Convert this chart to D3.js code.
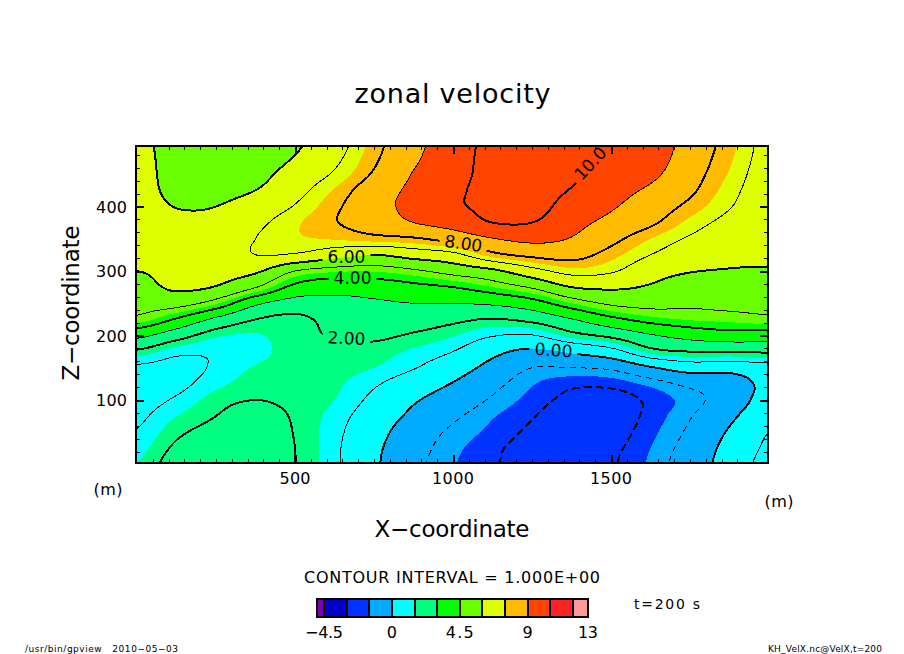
<!DOCTYPE html>
<html><head><meta charset="utf-8">
<script src="https://cdn.jsdelivr.net/npm/d3@7"></script>
<style>
html,body{margin:0;padding:0;background:#fff;}
svg{display:block;}
text{font-family:"DejaVu Sans",sans-serif;fill:#000;}
</style></head><body><div id="chart"></div>
<script>
// Sample positions (m)
const xCoords = d3.range(0, 2001, 125);
const zCoords = d3.range(0, 501, 25);
// Zonal velocity: one column per x, listed from z=0 up to z=500
const velocityColumns = [
 [1.5,1.3,1.05,0.85,0.7,0.7,0.85,1.85,3.25,4.8,5.3,5.65,6.0,6.5,6.6,6.7,6.7,6.6,6.5,6.4,6.3],
 [2.4,2.15,1.85,1.5,1.1,0.8,0.75,1.2,2.4,3.9,5.35,6.15,6.3,6.5,6.6,6.4,5.95,5.6,5.5,5.5,5.5],
 [2.75,2.6,2.3,2.0,1.75,1.35,1.1,1.1,1.6,2.8,4.6,5.95,6.25,6.4,6.4,6.3,6.0,5.7,5.4,5.3,5.2],
 [2.85,2.85,2.7,2.4,2.0,1.75,1.55,1.3,1.45,2.0,3.2,5.05,6.15,7.0,7.0,6.8,6.45,6.0,5.7,5.5,5.4],
 [2.0,2.0,1.95,1.9,1.8,1.75,1.75,1.8,1.8,1.8,2.6,3.75,5.0,6.9,7.4,7.4,7.05,6.7,6.4,6.05,5.85],
 [1.15,1.15,1.2,1.3,1.5,1.6,1.7,1.85,2.05,2.3,2.7,3.4,4.6,6.4,7.55,7.95,7.85,7.55,7.1,6.8,6.6],
 [0.15,0.2,0.35,0.55,0.8,1.1,1.5,1.75,2.15,2.5,2.85,3.5,4.55,6.0,7.75,8.4,8.6,8.5,8.1,7.85,7.7],
 [-0.75,-0.65,-0.5,-0.2,0.1,0.5,1.05,1.4,1.9,2.45,3.0,3.75,4.85,6.4,7.9,9.0,9.3,9.2,9.05,8.85,8.75],
 [-1.45,-1.35,-1.15,-0.85,-0.45,-0.05,0.45,1.0,1.55,2.2,3.0,4.0,5.35,6.75,8.35,9.4,9.85,9.8,9.65,9.55,9.45],
 [-1.9,-1.85,-1.65,-1.45,-1.1,-0.75,-0.3,0.25,1.05,1.95,3.15,4.5,5.8,7.75,8.95,10.0,10.2,10.3,10.3,10.3,10.3],
 [-2.45,-2.35,-2.15,-1.95,-1.7,-1.45,-1.0,-0.2,0.95,2.25,3.6,5.1,6.65,8.2,9.25,10.0,10.35,10.4,10.35,10.3,10.3],
 [-2.75,-2.75,-2.65,-2.5,-2.2,-1.85,-1.0,0.15,1.7,2.95,4.5,6.0,7.3,8.3,8.95,9.3,9.6,9.95,10.15,10.25,10.3],
 [-2.1,-2.2,-2.35,-2.45,-2.35,-1.8,-0.85,0.65,2.2,3.75,5.15,6.15,7.1,7.7,8.25,8.75,9.1,9.35,9.55,9.75,9.95],
 [-1.4,-1.5,-1.65,-1.8,-1.85,-1.35,-0.1,1.7,2.9,4.3,5.3,5.9,6.4,7.0,7.5,8.15,8.5,8.85,9.2,9.45,9.6],
 [-0.5,-0.65,-0.85,-1.05,-1.25,-0.8,0.45,2.0,3.35,4.55,5.15,5.5,6.05,6.5,6.9,7.35,7.8,8.15,8.35,8.5,8.6],
 [0.4,0.3,0.1,-0.2,-0.55,-0.55,0.4,2.0,3.6,4.65,5.25,5.55,5.95,6.2,6.45,6.75,7.05,7.25,7.45,7.6,7.7],
 [1.3,1.15,1.0,0.7,0.4,0.3,0.65,2.1,3.55,4.8,5.3,5.6,5.95,6.1,6.2,6.35,6.45,6.5,6.55,6.65,6.7]
];
// Colour bands
const bandEdges = [-5,-4.5,-3,-1.5,0,1.5,3,4.5,6,7.5,9,10.5,12,13];
const bandColors = ["#8000b0","#0000c8","#0033ff","#00aaff","#00ffff","#00ff80","#00ff00","#6aff00","#ddff00","#ffbb00","#ff4400","#ff2222","#ff9999"];
const colorbarTicks = [-4.5,0,4.5,9,13];
// Contour lines
const lineLevels = [-2,-1,0,1,2,3,4,5,6,7,8,9,10];
// In-line labels
const labelTexts = ["10.0","8.00","6.00","4.00","2.00","0.00"];
const labelLevels = [10,8,6,4,2,0];
const labelX = [1434,1033,663,682,663,1318];
const labelZ = [467,343,322,289,196,177.5];
const labelAngle = [-47,8,0,0,3,4];
// Axis labels
const xTickLabels = [500,1000,1500];
const zTickLabels = [100,200,300,400];

const W=904,H=654;
const x=d3.scaleLinear().domain([0,2000]).range([137,769]);
const y=d3.scaleLinear().domain([0,500]).range([464.5,142]);
const L=136,R=768,T=146,B=463;

const svg=d3.select("#chart").append("svg").attr("width",W).attr("height",H).attr("viewBox",`0 0 ${W} ${H}`);
const defs=svg.append("defs");
defs.append("clipPath").attr("id","plot").append("rect").attr("x",L).attr("y",T).attr("width",R-L).attr("height",B-T);

// Refine the read grid for drawing so contours follow smooth curves
const f=8, nc=xCoords.length, nr=zCoords.length;
function cr(a,b,c,d,t){return 0.5*(2*b+(c-a)*t+(2*a-5*b+4*c-d)*t*t+(3*b-a-3*c+d)*t*t*t);}
const cl=(v,n)=>Math.max(0,Math.min(n-1,v));
const fw=(nc-1)*f+1, fh=(nr-1)*f+1, fine=new Float64Array(fw*fh);
for(let j=0;j<fh;j++){
  const jj=Math.floor(j/f), tj=j/f-jj;
  for(let i=0;i<fw;i++){
    const ii=Math.floor(i/f), ti=i/f-ii, col=[];
    for(let m=-1;m<=2;m++){
      const cc=velocityColumns[cl(ii+m,nc)];
      col.push(cr(cc[cl(jj-1,nr)],cc[cl(jj,nr)],cc[cl(jj+1,nr)],cc[cl(jj+2,nr)],tj));
    }
    fine[j*fw+i]=cr(col[0],col[1],col[2],col[3],ti);
  }
}
const contours=d3.contours().size([fw,fh]).smooth(true);
const path=d3.geoPath(d3.geoTransform({point(u,v){
  this.stream.point(x((u-0.5)/f*125),y((v-0.5)/f*25));
}}));

const plot=svg.append("g").attr("clip-path","url(#plot)");
plot.append("rect").attr("x",L).attr("y",T).attr("width",R-L).attr("height",B-T).attr("fill",bandColors[1]);
plot.selectAll("path.band").data(bandEdges.slice(1,-1).map((e,i)=>({e,c:bandColors[i+1]})).filter(d=>d.e>-4.5))
  .join("path").attr("class","band")
  .attr("d",d=>path(contours.contour(fine,d.e)))
  .attr("fill",d=>d.c).attr("shape-rendering","crispEdges");

// masks make the gap in a labelled line
labelLevels.forEach((lv,i)=>{
  const m=defs.append("mask").attr("id","gap"+i).attr("maskUnits","userSpaceOnUse")
    .attr("x",0).attr("y",0).attr("width",W).attr("height",H);
  m.append("rect").attr("width",W).attr("height",H).attr("fill","#fff");
  m.append("rect").attr("x",-24).attr("y",-12).attr("width",48).attr("height",24).attr("fill","#000")
    .attr("transform",`translate(${x(labelX[i])},${y(labelZ[i])}) rotate(${labelAngle[i]})`);
});
const lines=plot.append("g").attr("fill","none").attr("stroke","#000");
lineLevels.forEach(lv=>{
  const even=lv%2===0, li=labelLevels.indexOf(lv);
  const p=lines.append("path").attr("d",path(contours.contour(fine,lv)))
    .attr("stroke-width",even?2:1).attr("shape-rendering","crispEdges");
  if(lv<0) p.attr("stroke-dasharray",even?"8 4":"6 5");
  if(li>=0) p.attr("mask",`url(#gap${li})`);
});
svg.append("g").selectAll("text").data(labelTexts).join("text")
  .attr("transform",(d,i)=>`translate(${x(labelX[i])},${y(labelZ[i])}) rotate(${labelAngle[i]})`)
  .attr("text-anchor","middle").attr("dy","0.36em").attr("font-size",17).text(d=>d);

// Axes: ticks point inward
function ticks(axis,major,isX,pos){
  const minorLen=4, majorLen=8;
  const vals=isX?d3.range(50,1997,50):d3.range(20,490,20);
  const g=svg.append("g").attr("transform",isX?`translate(0,${pos})`:`translate(${pos},0)`);
  g.call(axis(isX?x:y).tickValues(vals).tickFormat("").tickSizeOuter(0)
      .tickSize(-minorLen));
  g.select(".domain").remove();
  g.selectAll(".tick line").attr("stroke","#000").attr("shape-rendering","crispEdges")
    .each(function(d){
      if(d%major===0){
        const s=d3.select(this).attr("stroke-width",2);
        const a=isX?"y2":"x2"; s.attr(a,+s.attr(a)<0?-majorLen:majorLen);
      }
    });
}
ticks(d3.axisBottom,500,true,B);
ticks(d3.axisTop,500,true,T);
ticks(d3.axisLeft,100,false,L);
ticks(d3.axisRight,100,false,R);
svg.append("rect").attr("x",L).attr("y",T).attr("width",R-L).attr("height",B-T)
  .attr("fill","none").attr("stroke","#000").attr("stroke-width",2).attr("shape-rendering","crispEdges");

function label(t,px,py,size,len,anchor,rot){
  const s=svg.append("text").attr("font-size",size).attr("text-anchor",anchor||"middle").text(t);
  if(rot) s.attr("transform",`translate(${px},${py}) rotate(${rot})`);
  else s.attr("x",px).attr("y",py);
  if(len) s.attr("textLength",len).attr("lengthAdjust","spacing");
  return s;
}
xTickLabels.forEach(v=>label(v,x(v),484,16,v>=1000?42:31));
zTickLabels.forEach(v=>label(v,127,y(v)+6,16,31,"end"));
label("zonal velocity",452.5,103,27,196);
label("X\u2212coordinate",452,537,23,155);
label("Z\u2212coordinate",79,303,23,155,"middle",-90);
label("(m)",108,495,16,29);
label("(m)",779,507,16,29);
label("CONTOUR INTERVAL = 1.000E+00",452,583,16,296);
label("t=200 s",634,609,14,66,"start");
label("/usr/bin/gpview   2010\u221205\u221203",25,652,9,153,"start").attr("xml:space","preserve");
label("KH_VelX.nc@VelX,t=200",768,652,9,114,"start");

// Colour bar
const cb=d3.scaleLinear().domain([-5,13]).range([316.5,588]);
const cbY=599,cbH=18;
svg.append("g").selectAll("rect").data(bandColors).join("rect")
  .attr("x",(d,i)=>cb(bandEdges[i])).attr("y",cbY)
  .attr("width",(d,i)=>cb(bandEdges[i+1])-cb(bandEdges[i])).attr("height",cbH)
  .attr("fill",d=>d).attr("stroke","#000").attr("stroke-width",2).attr("shape-rendering","crispEdges");
colorbarTicks.forEach(v=>label(String(v).replace("-","\u2212"),cb(v),638,16,v===-4.5?38:(v===4.5?28:(v===13?20:null))));
</script></body></html>
